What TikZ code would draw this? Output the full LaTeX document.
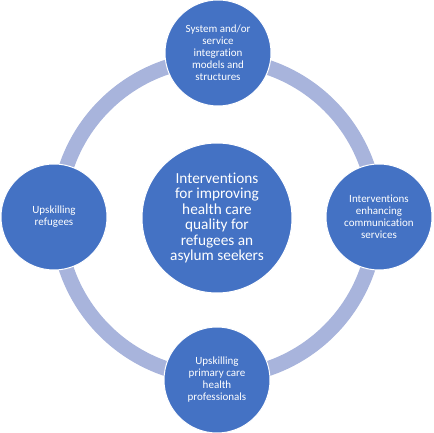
\documentclass[tikz,border=0pt]{standalone}
\usepackage{fontspec}
\setmainfont{Carlito}[Ligatures=NoCommon]
\usetikzlibrary{backgrounds}
\definecolor{cblue}{RGB}{68,114,196}
\definecolor{cring}{RGB}{168,180,220}
\begin{document}
\begin{tikzpicture}[x=1pt,y=1pt,
  disc/.style={circle,fill=cblue,draw=white,line width=1pt,text=white,align=center,inner sep=0pt},
  hub/.style={disc,minimum size=150pt,font=\fontsize{15.3}{15.5}\selectfont},
  sat/.style={disc,minimum size=106pt,font=\fontsize{11}{12}\selectfont},
  ring/.style={draw=cring,line width=15pt}]
\useasboundingbox (0,0) rectangle (433,433);
\node[hub] (c) at (217,215) {Interventions\\for improving\\health care\\quality for\\refugees an\\asylum seekers};
\node[sat] (t) at (218,380) {System and/or\\service\\integration\\models and\\structures};
\node[sat] (r) at (379,216) {Interventions\\enhancing\\communication\\services};
\node[sat] (b) at (217,53) {Upskilling\\primary care\\health\\professionals};
\node[sat] (l) at (54,216) {Upskilling\\refugees};
\begin{scope}[on background layer]
\draw[ring] (c.center) circle[radius=159];
\end{scope}
\end{tikzpicture}
\end{document}
